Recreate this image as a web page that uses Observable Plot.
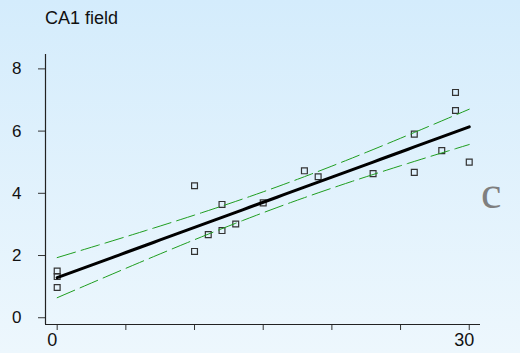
<!DOCTYPE html>
<html>
<head>
<meta charset="utf-8">
<script src="https://cdn.jsdelivr.net/npm/d3@7"></script>
<script src="https://cdn.jsdelivr.net/npm/@observablehq/plot@0.6"></script>
<style>
  html, body { margin: 0; padding: 0; }
  #chart {
    position: relative;
    width: 520px;
    height: 353px;
    background: linear-gradient(to bottom, rgb(212,236,252), rgb(237,247,253));
    font-family: "Liberation Sans", Arial, sans-serif;
    overflow: hidden;
  }
  #title {
    height: 38px;
    box-sizing: border-box;
    padding: 9px 0 0 45px;
    font-size: 18px;
    line-height: 18px;
    color: #111;
  }
  #panel {
    position: absolute;
    left: 481px;
    top: 170px;
    font-family: "Liberation Serif", "Times New Roman", serif;
    font-size: 46px;
    line-height: 46px;
    color: #7f7f7f;
  }
  svg { display: block; }
</style>
</head>
<body>
<div id="chart">
  <div id="title">CA1 field</div>
  <div id="panel">c</div>
</div>
<script>
// Observations: x position and measured value
const xValues = [0, 0, 0, 10, 10, 11, 12, 12, 13, 15, 18, 19, 23, 26, 26, 28, 29, 29, 30];
const yValues = [1.39, 1.21, 0.86, 4.13, 2.02, 2.56, 3.53, 2.69, 2.90, 3.58, 4.61, 4.42, 4.52, 5.79, 4.56, 5.26, 7.13, 6.55, 4.89];

// Axis ticks and scale extents
const yTicks = [0, 2, 4, 6, 8];
const xTicks = [0, 5, 10, 15, 20, 25, 30];
const xTickLabels = [0, 30];
const xDomain = [-0.85, 30.82];
const yDomain = [-0.33, 8.35];

const points = xValues.map((x, i) => ({x, y: yValues[i]}));

// Ordinary least squares fit with a 95% confidence band for the mean
const n = points.length;
const mx = d3.mean(xValues), my = d3.mean(yValues);
const sxx = d3.sum(xValues, x => (x - mx) ** 2);
const sxy = d3.sum(points, p => (p.x - mx) * (p.y - my));
const slope = sxy / sxx;
const intercept = my - slope * mx;
const sse = d3.sum(points, p => (p.y - (intercept + slope * p.x)) ** 2);
const s = Math.sqrt(sse / (n - 2));
const tCrit = 2.110; // t(0.975, 17)
const [x0, x1] = d3.extent(xValues);
const fit = d3.range(0, 61).map(i => {
  const x = x0 + (x1 - x0) * i / 60;
  const yhat = intercept + slope * x;
  const half = tCrit * s * Math.sqrt(1 / n + (x - mx) ** 2 / sxx);
  return {x, yhat, lo: yhat - half, hi: yhat + half};
});

const green = "#1f9e1f";

const plot = Plot.plot({
  width: 520,
  height: 315,
  marginLeft: 45,
  marginRight: 40,
  marginTop: 16,
  marginBottom: 29,
  style: {background: "transparent", fontFamily: "'Liberation Sans', Arial, sans-serif", color: "#111"},
  x: {domain: xDomain},
  y: {domain: yDomain},
  marks: [
    Plot.axisY({ticks: yTicks, tickSize: 7, tickPadding: 17, fontSize: 17, dy: 3.5, label: null, stroke: "#333"}),
    Plot.axisX({ticks: xTicks, tickSize: 6, tickFormat: () => "", label: null, stroke: "#333"}),
    Plot.axisX({ticks: xTickLabels, tickSize: 0, tickPadding: 9, fontSize: 18, dx: -5, label: null}),
    // axis baselines along the left and bottom edges of the plot area
    Plot.ruleX([xDomain[0]], {stroke: "#222", strokeWidth: 1.2}),
    Plot.ruleY([yDomain[0]], {stroke: "#222", strokeWidth: 1.2}),
    Plot.dot(points, {x: "x", y: "y", symbol: "square", r: 3.3, stroke: "#333", strokeWidth: 1.2, fill: "none"}),
    Plot.line(fit, {x: "x", y: "hi", stroke: green, strokeWidth: 1, strokeDasharray: "19,6"}),
    Plot.line(fit, {x: "x", y: "lo", stroke: green, strokeWidth: 1, strokeDasharray: "19,6"}),
    Plot.line(fit, {x: "x", y: "yhat", stroke: "#000", strokeWidth: 3})
  ]
});

document.getElementById("chart").insertBefore(plot, document.getElementById("panel"));
</script>
</body>
</html>
